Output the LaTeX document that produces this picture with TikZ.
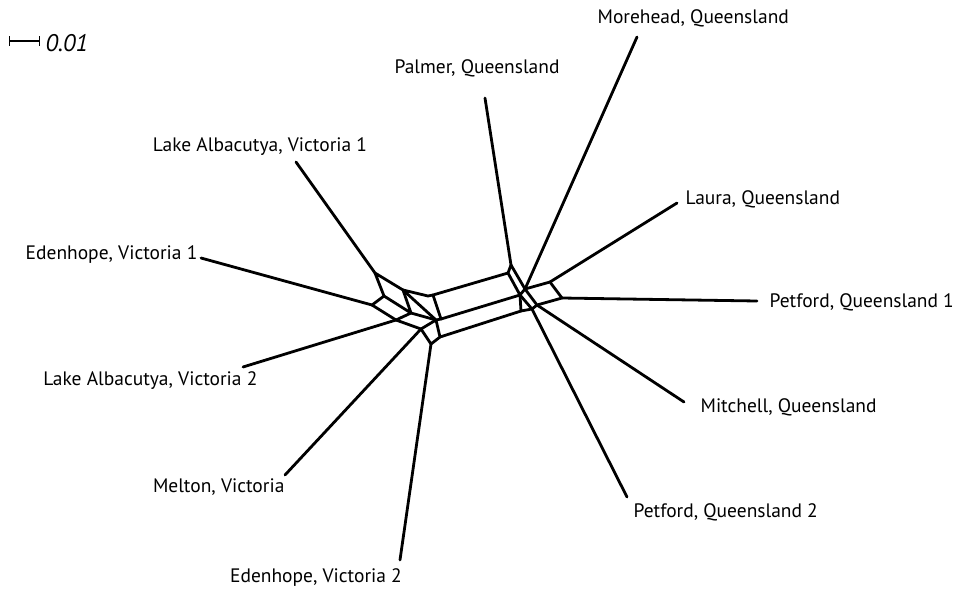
\documentclass[tikz,border=0pt]{standalone}
\usepackage{fontspec}
\setmainfont{PT Sans}
\begin{document}
\begin{tikzpicture}[x=0.75pt,y=-0.75pt,
    taxon/.style={inner sep=1pt, font=\fontsize{14.6}{18}\selectfont},
    split/.style={line width=2.1pt, line join=round, line cap=round}
  ]
\useasboundingbox (0,0) rectangle (965,597);

% scale
\coordinate (sbl) at (9,41);
\coordinate (sbr) at (40,41);
\draw[line width=0.9pt, |-|] (sbl) -- (sbr);
\node[inner sep=1pt, anchor=west, font=\fontsize{18}{20}\selectfont] (scale) at (44,43) {\itshape 0.01};

% taxa
\node[taxon] (palmer) at (477,68) {Palmer, Queensland};
\node[taxon, anchor=west] (morehead) at (596,18) {Morehead, Queensland};
\node[taxon] (lakeA) at (260,147) {Lake Albacutya, Victoria 1};
\node[taxon, anchor=west] (laura) at (684,199) {Laura, Queensland};
\node[taxon, anchor=east] (edenA) at (199,255) {Edenhope, Victoria 1};
\node[taxon, anchor=west] (petfordA) at (768,302) {Petford, Queensland 1};
\node[taxon, anchor=east] (lakeB) at (259,381) {Lake Albacutya, Victoria 2};
\node[taxon, anchor=west] (mitchell) at (699,407) {Mitchell, Queensland};
\node[taxon, anchor=east] (melton) at (286,487) {Melton, Victoria};
\node[taxon, anchor=west] (petfordB) at (632,512) {Petford, Queensland 2};
\node[taxon] (edenB) at (316,578) {Edenhope, Victoria 2};

% leaf ends
\coordinate (palmerEnd) at (485,98);
\coordinate (moreheadEnd) at (637,37);
\coordinate (lakeAEnd) at (296,162);
\coordinate (lauraEnd) at (677,203);
\coordinate (edenAEnd) at (201,258);
\coordinate (petfordAEnd) at (757,301);
\coordinate (lakeBEnd) at (243,367);
\coordinate (mitchellEnd) at (684,402);
\coordinate (meltonEnd) at (285,475);
\coordinate (petfordBEnd) at (627,497);
\coordinate (edenBEnd) at (400,560);

% western joints
\coordinate (l1) at (375,273);
\coordinate (l2) at (384,296);
\coordinate (l3) at (403,290);
\coordinate (l4) at (411,313);
\coordinate (edenAj) at (372,305);
\coordinate (lakeBj) at (396,320);
\coordinate (tl1) at (428,296);
\coordinate (tl2) at (433,295);
\coordinate (ml1) at (436,320);
\coordinate (ml2) at (441,319);
\coordinate (meltonj) at (421,329);
\coordinate (bl) at (440,337);
\coordinate (edenBj) at (431,344);

% eastern joints
\coordinate (palmerj) at (511,265);
\coordinate (tr) at (508,273);
\coordinate (ha) at (525,289);
\coordinate (hb) at (520,295);
\coordinate (br) at (521,311);
\coordinate (lauraj) at (550,282);
\coordinate (petfordAj) at (562,298);
\coordinate (hc) at (537,305);
\coordinate (hd) at (532,309);

% pendant edges
\draw[split] (lakeAEnd) -- (l1);
\draw[split] (edenAEnd) -- (edenAj);
\draw[split] (lakeBEnd) -- (lakeBj);
\draw[split] (meltonEnd) -- (meltonj);
\draw[split] (edenBEnd) -- (edenBj);
\draw[split] (palmerEnd) -- (palmerj);
\draw[split] (moreheadEnd) -- (ha);
\draw[split] (lauraEnd) -- (lauraj);
\draw[split] (petfordAEnd) -- (petfordAj);
\draw[split] (mitchellEnd) -- (hc);
\draw[split] (petfordBEnd) -- (hd);

% west
\draw[split] (l1) -- (l2) -- (l4) -- (l3) -- cycle;
\draw[split] (edenAj) -- (l2);
\draw[split] (edenAj) -- (lakeBj) -- (l4);
\draw[split] (l3) -- (tl1) -- (tl2) -- (ml2) -- (ml1) -- cycle;
\draw[split] (l4) -- (ml1);
\draw[split] (lakeBj) -- (meltonj) -- (ml1);
\draw[split] (meltonj) -- (edenBj) -- (bl) -- (ml1);

% band
\draw[split] (tl2) -- (tr);
\draw[split] (ml2) -- (hb);
\draw[split] (bl) -- (br);

% east
\draw[split] (palmerj) -- (tr) -- (hb) -- (ha) -- cycle;
\draw[split] (ha) -- (lauraj) -- (petfordAj) -- (hc) -- cycle;
\draw[split] (hb) -- (hd) -- (hc);
\draw[split] (hb) -- (br) -- (hd);
\end{tikzpicture}
\end{document}
